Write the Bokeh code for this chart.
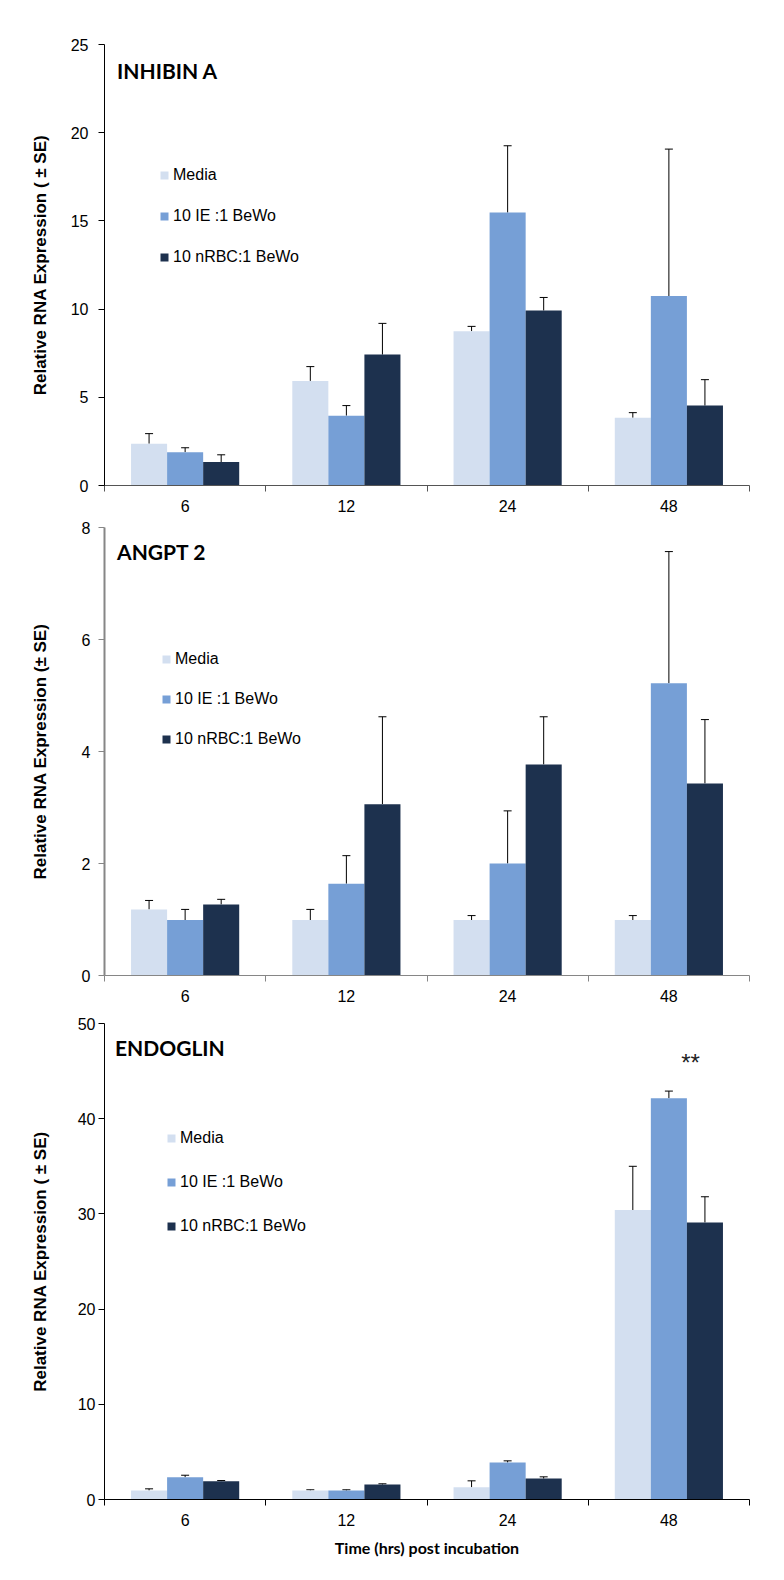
from bokeh.plotting import figure
from bokeh.models import (ColumnDataSource, Whisker, TeeHead, Label, Legend, LegendItem,
                          FixedTicker, Range1d)
from bokeh.layouts import column
from bokeh.embed import file_html
from bokeh.resources import INLINE

# ---------------- data ----------------
categories = ["6", "12", "24", "48"]
series_names = ["Media", "10 IE :1 BeWo", "10 nRBC:1 BeWo"]
series_colors = ["#D3DFF0", "#769FD6", "#1D314E"]

inhibin_media = [2.37, 5.93, 8.75, 3.84]
inhibin_media_se = [0.57, 0.81, 0.27, 0.29]
inhibin_ie = [1.89, 3.96, 15.47, 10.74]
inhibin_ie_se = [0.25, 0.57, 3.79, 8.33]
inhibin_nrbc = [1.33, 7.42, 9.92, 4.53]
inhibin_nrbc_se = [0.41, 1.77, 0.74, 1.47]

angpt_media = [1.18, 0.99, 0.99, 0.99]
angpt_media_se = [0.16, 0.19, 0.08, 0.08]
angpt_ie = [0.99, 1.64, 2.00, 5.22]
angpt_ie_se = [0.19, 0.50, 0.94, 2.35]
angpt_nrbc = [1.27, 3.06, 3.77, 3.43]
angpt_nrbc_se = [0.09, 1.56, 0.85, 1.14]

endo_media = [0.94, 0.94, 1.29, 30.4]
endo_media_se = [0.18, 0.08, 0.67, 4.6]
endo_ie = [2.34, 0.94, 3.88, 42.15]
endo_ie_se = [0.21, 0.08, 0.18, 0.75]
endo_nrbc = [1.92, 1.57, 2.20, 29.1]
endo_nrbc_se = [0.07, 0.08, 0.18, 2.7]

BAR_W = 0.2236


def make_panel(title, values, ses, ymax, ystep, height, top, bottom, ylabel,
               axis_color_y, axis_color_x, axis_w_y, label_standoff_y, axis_label_standoff_y,
               title_xy, legend_loc, legend_spacing, xlabel=None):
    p = figure(width=784, height=height, x_range=Range1d(0, len(categories)),
               y_range=Range1d(0, ymax), output_backend="svg", toolbar_location=None,
               min_border_left=104, min_border_right=35, min_border_top=top,
               min_border_bottom=bottom)
    p.xgrid.visible = False
    p.ygrid.visible = False
    p.outline_line_color = None
    p.background_fill_color = "white"
    p.border_fill_color = "white"

    centers = [i + 0.5 for i in range(len(categories))]
    offsets = [-BAR_W, 0.0, BAR_W]
    items = []
    for name, color, vals, se, off in zip(series_names, series_colors, values, ses, offsets):
        src = ColumnDataSource(dict(
            x=[c + off for c in centers], top=vals,
            upper=[v + s for v, s in zip(vals, se)]))
        r = p.vbar(x="x", top="top", width=BAR_W, source=src, fill_color=color,
                   line_color=None)
        items.append(LegendItem(label=name, renderers=[r]))
        w = Whisker(source=src, base="x", upper="upper", lower="top",
                    line_color="black", line_width=1,
                    upper_head=TeeHead(size=8, line_color="black", line_width=1),
                    lower_head=None)
        p.add_layout(w)

    legend = Legend(items=items, location=legend_loc, glyph_width=10, glyph_height=10,
                    label_standoff=4, spacing=legend_spacing, padding=0, margin=0,
                    label_height=20, border_line_color=None, background_fill_alpha=0,
                    label_text_font="Liberation Sans", label_text_font_size="16px",
                    label_text_color="black")
    p.add_layout(legend)

    # y axis
    ya = p.yaxis[0]
    ya.ticker = FixedTicker(ticks=list(range(0, ymax + 1, ystep)), minor_ticks=[])
    ya.major_tick_out = 6
    ya.major_tick_in = 0
    ya.minor_tick_out = 0
    ya.minor_tick_in = 0
    ya.axis_line_color = axis_color_y
    ya.axis_line_width = axis_w_y
    ya.major_tick_line_color = axis_color_y
    ya.major_label_text_font = "Liberation Sans"
    ya.major_label_text_font_size = "16px"
    ya.major_label_text_color = "black"
    ya.major_label_standoff = label_standoff_y
    ya.axis_label = ylabel
    ya.axis_label_text_font = "Liberation Sans"
    ya.axis_label_text_font_style = "bold"
    ya.axis_label_text_font_size = "17px"
    ya.axis_label_text_color = "black"
    ya.axis_label_standoff = axis_label_standoff_y

    # x axis: labels at category centres, tick marks at category boundaries
    xa = p.xaxis[0]
    xa.ticker = FixedTicker(ticks=centers, minor_ticks=list(range(len(categories) + 1)))
    xa.major_label_overrides = {c: cat for c, cat in zip(centers, categories)}
    xa.major_tick_out = 0
    xa.major_tick_in = 0
    xa.minor_tick_out = 6
    xa.minor_tick_in = 0
    xa.minor_tick_line_color = axis_color_x
    xa.axis_line_color = axis_color_x
    xa.major_label_text_font = "Liberation Sans"
    xa.major_label_text_font_size = "16px"
    xa.major_label_text_color = "black"
    xa.major_label_standoff = 8
    if xlabel:
        xa.axis_label = xlabel
        xa.axis_label_text_font = "Lato"
        xa.axis_label_text_font_style = "bold"
        xa.axis_label_text_font_size = "16px"
        xa.axis_label_text_color = "black"
        xa.axis_label_standoff = 9

    p.add_layout(Label(x=title_xy[0], y=title_xy[1], text=title, text_font="Lato",
                       text_font_style="bold", text_font_size="21px", text_color="black",
                       text_baseline="alphabetic"))
    return p


p1 = make_panel("INHIBIN A", [inhibin_media, inhibin_ie, inhibin_nrbc],
                [inhibin_media_se, inhibin_ie_se, inhibin_nrbc_se],
                25, 5, 518, 44, 33, "Relative RNA Expression ( \u00b1 SE)",
                "black", "#555555", 1, 10, 18, (0.078, 23.5), (55, 218), 21)

p2 = make_panel("ANGPT 2", [angpt_media, angpt_ie, angpt_nrbc],
                [angpt_media_se, angpt_ie_se, angpt_nrbc_se],
                8, 2, 494, 9, 37, "Relative RNA Expression (\u00b1 SE)",
                "#868686", "#868686", 2, 8, 29, (0.078, 7.57), (57, 226), 20)

p3 = make_panel("ENDOGLIN", [endo_media, endo_ie, endo_nrbc],
                [endo_media_se, endo_ie_se, endo_nrbc_se],
                50, 10, 568, 11, 81, "Relative RNA Expression ( \u00b1 SE)",
                "black", "black", 1, 3, 25, (0.065, 47.5), (62, 263), 24,
                xlabel="Time (hrs) post incubation")

star_cat = categories.index("48")
p3.add_layout(Label(x=star_cat + 0.634, y=45.9, text="**", text_align="center",
                    text_baseline="alphabetic", text_font="Liberation Sans",
                    text_font_size="24px", text_color="#222222"))

layout = column(p1, p2, p3, spacing=0)
open("out.html", "w").write(file_html(layout, INLINE))
